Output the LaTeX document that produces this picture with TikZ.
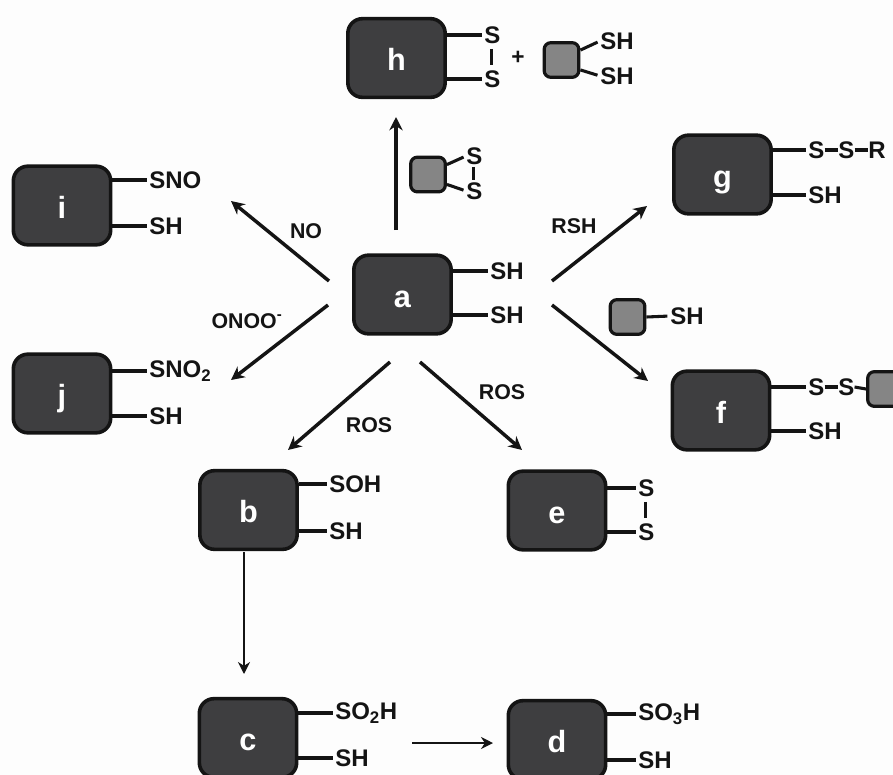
\documentclass[tikz,border=0pt]{standalone}
\usepackage{fontspec}
\setmainfont{Liberation Sans}
\usetikzlibrary{arrows.meta,calc}
\definecolor{bigbox}{HTML}{3E3E40}
\definecolor{smallbox}{HTML}{858585}
\definecolor{ink}{HTML}{141414}
\definecolor{paper}{HTML}{FDFDFD}
\newcommand{\bl}[1]{\raisebox{-9.5pt}[0pt][0pt]{#1}}
\tikzset{
  x=0.75pt,y=-0.75pt,
  bigb/.style={draw=ink,line width=2.7pt,fill=bigbox,rounded corners=11pt,minimum width=73pt,minimum height=59pt,inner sep=0pt,text=white,font=\bfseries\fontsize{23}{23}\selectfont},
  smallb/.style={draw=ink,line width=2.4pt,fill=smallbox,rounded corners=5pt,minimum width=26pt,minimum height=26pt,inner sep=0pt},
  chem/.style={inner sep=0pt,text=ink,anchor=west,font=\bfseries\fontsize{18}{18}\selectfont},
  lab/.style={inner sep=0pt,text=ink,font=\bfseries\fontsize{16}{16}\selectfont},
  stem/.style={draw=ink,line width=2.3pt},
  arr/.style={draw=ink,line width=2.6pt,-{Stealth[length=10pt,width=10pt]}},
  thinarr/.style={draw=ink,line width=2.1pt,-{Stealth[length=9pt,width=9pt]}},
}
\begin{document}
\begin{tikzpicture}
\useasboundingbox (0,0) rectangle (893,775);
\fill[paper] (0,0) rectangle (893,775);
% big boxes
\node[bigb] (a) at (402.5,294.5) {\bl{a}};
\node[bigb] (b) at (248.5,510) {\bl{b}};
\node[bigb] (c) at (248,738) {\bl{c}};
\node[bigb] (d) at (557,740) {\bl{d}};
\node[bigb] (e) at (557,510.5) {\bl{e}};
\node[bigb] (f) at (721,410.5) {\bl{f}};
\node[bigb] (g) at (722.5,174.5) {\bl{g}};
\node[bigb] (h) at (396.5,58) {\bl{h}};
\node[bigb] (i) at (62,205.5) {\bl{i}};
\node[bigb] (j) at (62,393.5) {\bl{j}};
% chem texts
\node[chem] (a1) at (490,271) {SH};
\node[chem] (a2) at (490,315) {SH};
\node[chem] (b1) at (329,484) {SOH};
\node[chem] (b2) at (329,531) {SH};
\node[chem] (c1) at (335,713) {SO\textsubscript{2}H};
\node[chem] (c2) at (335,758) {SH};
\node[chem] (d1) at (638,714) {SO\textsubscript{3}H};
\node[chem] (d2) at (638,760) {SH};
\node[chem] (e1) at (638,488) {S};
\node[chem] (e2) at (638,532) {S};
\node[chem] (f1) at (808,387) {S};
\node[chem] (f3) at (838,387) {S};
\node[chem] (f2) at (808,431) {SH};
\node[chem] (g1) at (808,150) {S};
\node[chem] (g3) at (838,150) {S};
\node[chem] (g4) at (868,150) {R};
\node[chem] (g2) at (808,195) {SH};
\node[chem] (h1) at (484,35) {S};
\node[chem] (h2) at (484,79) {S};
\node[chem] (i1) at (149,180) {SNO};
\node[chem] (i2) at (149,226) {SH};
\node[chem] (j1) at (149,371) {SNO\textsubscript{2}};
\node[chem] (j2) at (149,416) {SH};
% small boxes
\node[smallb] (sh) at (561.5,60) {};
\node[smallb] (st) at (428,174.5) {};
\node[smallb] (sm) at (627.5,317) {};
\node[smallb] (sf) at (885,389) {};
\node[chem] (sh1) at (600,41) {SH};
\node[chem] (sh2) at (600,76) {SH};
\node[chem] (st1) at (466,156) {S};
\node[chem] (st2) at (466,191) {S};
\node[chem] (sm1) at (670,316) {SH};
% stems
\foreach \n/\t in {a/a1,a/a2,b/b1,b/b2,c/c1,c/c2,d/d1,d/d2,e/e1,e/e2,f/f1,f/f2,g/g1,g/g2,h/h1,h/h2,i/i1,i/i2,j/j1,j/j2}
  \draw[stem,shorten >=1.5pt] (\n.east |- \t.west) -- (\t.west);
\draw[stem] ($(e1.south)+(-1,5)$) -- ($(e2.north)+(-1,-5)$);
\draw[stem] ($(h1.south)+(-1,5)$) -- ($(h2.north)+(-1,-5)$);
\draw[stem] ($(st1.south)+(-1,2)$) -- ($(st2.north)+(-1,-2)$);
\draw[stem] (f1.east) -- (f3.west);
\draw[stem] (f3.east) -- (sf.west);
\draw[stem] (g1.east) -- (g3.west);
\draw[stem] (g3.east) -- (g4.west);
\draw[stem,shorten >=2pt] (sm.east) -- (sm1.west);
\draw[stem,shorten >=2pt] ($(sh.north east)+(0,9)$) -- (sh1.west);
\draw[stem,shorten >=2pt] ($(sh.south east)+(0,-9)$) -- (sh2.west);
\draw[stem,shorten >=2pt] ($(st.north east)+(0,9)$) -- (st1.west);
\draw[stem,shorten >=2pt] ($(st.south east)+(0,-9)$) -- (st2.west);
% plus
\node[lab,font=\bfseries\fontsize{17}{17}\selectfont] (plus) at (518,58) {+};
% arrows
\coordinate (A1) at (396,230); \coordinate (A1e) at (396,117);
\coordinate (A2) at (329,281); \coordinate (A2e) at (231,201);
\coordinate (A3) at (552,281); \coordinate (A3e) at (647,206);
\coordinate (A4) at (552,305); \coordinate (A4e) at (648,381);
\coordinate (A5) at (328,305); \coordinate (A5e) at (231,380);
\coordinate (A6) at (390,362); \coordinate (A6e) at (288,450);
\coordinate (A7) at (420,362); \coordinate (A7e) at (522,450);
\coordinate (A8) at (244,552); \coordinate (A8e) at (244,674);
\coordinate (A9) at (412,743); \coordinate (A9e) at (493,743);
\foreach \s/\t in {A1/A1e,A2/A2e,A3/A3e,A4/A4e,A5/A5e,A6/A6e,A7/A7e}
  \draw[arr] (\s) -- (\t);
\foreach \s/\t in {A8/A8e,A9/A9e}
  \draw[thinarr] (\s) -- (\t);
% labels
\node[lab] (lno) at (306,231) {NO};
\node[lab] (lonoo) at (247,321) {ONOO\textsuperscript{-}};
\node[lab] (lrsh) at (574,226) {RSH};
\node[lab] (lros1) at (369,425) {ROS};
\node[lab] (lros2) at (502,392) {ROS};
\end{tikzpicture}
\end{document}
